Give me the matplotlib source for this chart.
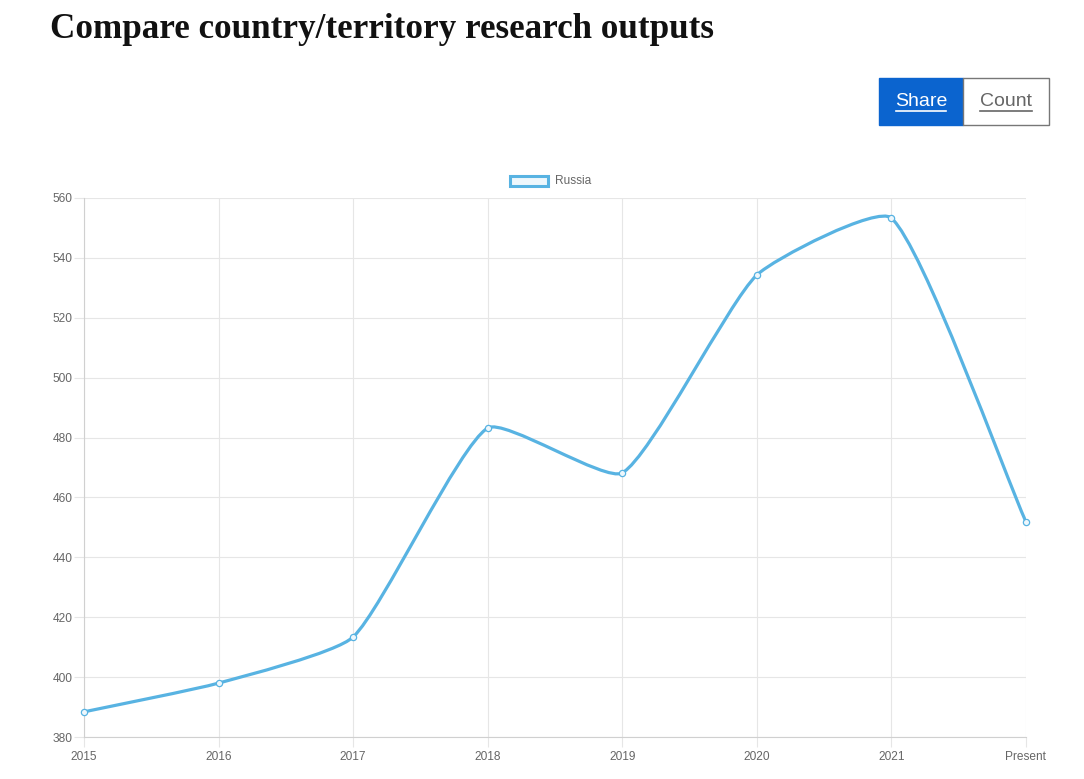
import numpy as np
import matplotlib
matplotlib.use("Agg")
import matplotlib.pyplot as plt
from matplotlib.path import Path
from matplotlib.patches import PathPatch, Rectangle
from matplotlib.lines import Line2D

categories = ["2015", "2016", "2017", "2018", "2019", "2020", "2021", "Present"]
russia = [388.4, 398.0, 413.4, 483.2, 468.2, 534.3, 553.3, 451.8]
y_ticks = [380, 400, 420, 440, 460, 480, 500, 520, 540, 560]
series_name = "Russia"
title = "Compare country/territory research outputs"

W, H = 1084, 779
LINE = "#58b3e2"
GRID = "#e6e6e6"
TXT = "#666666"

fig = plt.figure(figsize=(W / 100, H / 100), dpi=100)
ax = fig.add_axes([84 / W, 1 - 737 / H, (1026 - 84) / W, (737 - 198) / H])
x = np.arange(len(categories), dtype=float)
ax.set_xlim(0, len(categories) - 1)
ax.set_ylim(y_ticks[0], y_ticks[-1])
ax.set_xticks(x)
ax.set_xticklabels(categories)
ax.set_yticks(y_ticks)
ax.grid(True, color=GRID, linewidth=0.8)
ax.set_axisbelow(True)
for s in ["top", "right"]:
    ax.spines[s].set_visible(False)
for s in ["left", "bottom"]:
    ax.spines[s].set_color("#d0d0d0")
    ax.spines[s].set_linewidth(0.8)
ax.tick_params(axis="both", colors=GRID, length=7, width=0.8, labelcolor=TXT,
               labelsize=8.6)
ax.tick_params(axis="y", pad=1.5)
ax.tick_params(axis="x", pad=3)
for lab in ax.get_xticklabels() + ax.get_yticklabels():
    lab.set_fontfamily("Liberation Sans")

# Chart.js-like spline with low tension, computed in pixel space
fig.canvas.draw()
pts = ax.transData.transform(np.column_stack([x, russia]))
t = 0.17
n = len(pts)
cps = []
for i in range(n):
    p = pts[i - 1] if i > 0 else pts[i]
    c = pts[i]
    nx = pts[i + 1] if i < n - 1 else pts[i]
    d01 = np.hypot(*(c - p))
    d12 = np.hypot(*(nx - c))
    tot = d01 + d12
    s01 = d01 / tot if tot else 0
    s12 = d12 / tot if tot else 0
    cps.append((c - t * s01 * (nx - p), c + t * s12 * (nx - p)))
verts = [tuple(pts[0])]
codes = [Path.MOVETO]
for i in range(1, n):
    verts += [tuple(cps[i - 1][1]), tuple(cps[i][0]), tuple(pts[i])]
    codes += [Path.CURVE4] * 3
verts_data = ax.transData.inverted().transform(np.array(verts))
ax.add_patch(PathPatch(Path(verts_data, codes), facecolor="none", edgecolor=LINE,
                       linewidth=2.3, capstyle="round", joinstyle="round", zorder=3))
ax.plot(x, russia, linestyle="none", marker="o", markersize=4.5,
        markerfacecolor="#eef7fc", markeredgecolor=LINE, markeredgewidth=0.9,
        zorder=4, clip_on=False)

# Title
fig.text(50 / W, 1 - 30 / H, title, fontsize=25.2, fontweight="bold",
         family="Liberation Serif", color="#111111", va="center", ha="left")

# Buttons
fig.patches.append(Rectangle((879 / W, 1 - 125 / H), (963 - 879) / W, 47 / H,
                             transform=fig.transFigure, facecolor="#0b64cf",
                             edgecolor="#0b64cf", linewidth=1))
fig.patches.append(Rectangle((963 / W, 1 - 125 / H), (1049 - 963) / W, 47 / H,
                             transform=fig.transFigure, facecolor="white",
                             edgecolor="#777777", linewidth=1))
fig.text(921 / W, 1 - 101 / H, "Share", fontsize=14, color="white",
         family="Liberation Sans", ha="center", va="center")
fig.text(1006 / W, 1 - 101 / H, "Count", fontsize=14, color="#666666",
         family="Liberation Sans", ha="center", va="center")
fig.lines.append(Line2D([896 / W, 946 / W], [1 - 110.5 / H] * 2,
                        transform=fig.transFigure, color="white", linewidth=1.2))
fig.lines.append(Line2D([980 / W, 1032 / W], [1 - 110.5 / H] * 2,
                        transform=fig.transFigure, color="#666666", linewidth=1.2))

# Legend
fig.patches.append(Rectangle((510 / W, 1 - 186 / H), 38 / W, 10 / H,
                             transform=fig.transFigure, facecolor="#eef7fc",
                             edgecolor=LINE, linewidth=2.2))
fig.text(555 / W, 1 - 181.5 / H, series_name, fontsize=8.6, color=TXT,
         family="Liberation Sans", ha="left", va="center")

fig.savefig("out.png", dpi=100, facecolor="white")
